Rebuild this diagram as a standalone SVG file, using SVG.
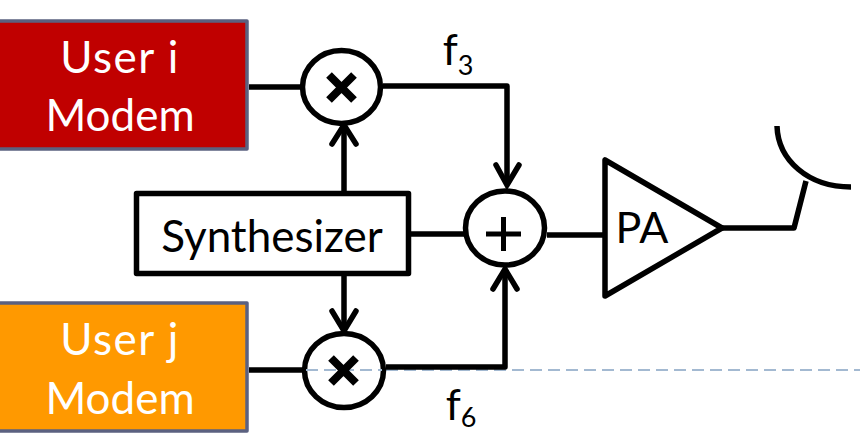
<svg xmlns="http://www.w3.org/2000/svg" width="864" height="433" viewBox="0 0 864 433">
<style>
.ln{fill:none;stroke:#000;stroke-width:5.500;stroke-linecap:butt;stroke-linejoin:round}
.hd{fill:none;stroke:#000;stroke-width:5.500;stroke-linecap:round;stroke-linejoin:miter}
.sh{fill:#fff;stroke:#000;stroke-width:5.500;stroke-linejoin:round}
.op{fill:none;stroke:#000;stroke-linecap:butt}
.dash{fill:none;stroke:#a3b9d1;stroke-width:2;stroke-dasharray:12 6}
.modem{stroke:#5b6180;stroke-width:3.500;stroke-linejoin:round}
text{font-family:Lato,"Noto Sans","Liberation Sans",sans-serif;text-anchor:middle}
.w{fill:#fff;font-size:44px}
.b{fill:#000}
</style>
<path class="dash" d="M386 370H860"/>
<g id="user-i"><rect class="modem" x="-6" y="21" width="253" height="128" fill="#c00000"/><text class="w" x="120" y="73" letter-spacing="1.500">User i</text><text class="w" x="120" y="131">Modem</text></g>
<g id="user-j"><rect class="modem" x="-6" y="303" width="253" height="128" fill="#ff9900"/><text class="w" x="120" y="355" letter-spacing="1.500">User j</text><text class="w" x="120" y="414">Modem</text></g>
<g id="connectors">
<path class="ln" d="M249 87H301M383 86H507V184M344 192V122M344 276V331M411 234H464M547 235H605M249 370H303M386 367H505V270M722 228H794L806 181"/>
<path class="hd" d="M332 144L344 125L356 144M332 311L344 331L356 311M496 165L507 185L519 165M493 289L505 269L517 289"/>
</g>
<g id="mixer-top"><ellipse class="sh" cx="341.500" cy="87" rx="39" ry="36.500"/><path class="op" stroke-width="8" d="M329 75L354 100M354 75L329 100"/></g>
<g id="mixer-bottom"><ellipse class="sh" cx="344" cy="370.500" rx="39.500" ry="37"/><path class="dash" d="M306 370H382"/><path class="op" stroke-width="8" d="M331 358L356 383M356 358L331 383"/></g>
<g id="synthesizer"><rect class="sh" x="136.500" y="193.500" width="272" height="80"/><text class="b" x="272" y="252" font-size="44">Synthesizer</text></g>
<g id="adder"><ellipse class="sh" cx="505" cy="228" rx="39.500" ry="37"/><path class="op" stroke-width="5" d="M486 234H521M503.500 217V251"/></g>
<g id="pa"><path class="sh" d="M605 160V296L722 228Z"/><text class="b" x="642" y="243" font-size="43">PA</text></g>
<g id="antenna"><path class="ln" d="M777 126C778 160 808 187 851 187"/></g>
<g id="label-f3"><text class="b" x="458" y="65" font-size="43">f<tspan font-size="27" dy="10">3</tspan></text></g>
<g id="label-f6"><text class="b" x="461" y="420" font-size="43">f<tspan font-size="27" dy="7">6</tspan></text></g>
</svg>
